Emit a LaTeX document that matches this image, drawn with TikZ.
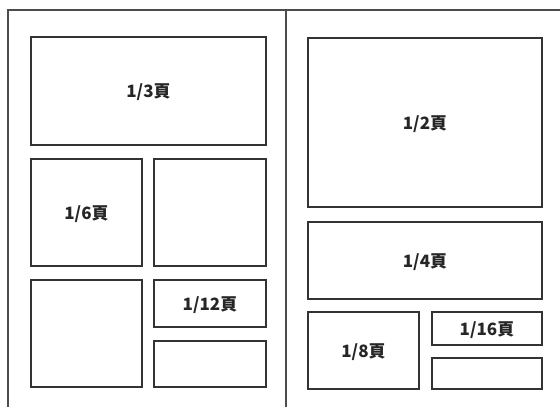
\documentclass[tikz,border=0pt]{standalone}
\usepackage{fontspec}
\setmainfont{Noto Sans CJK JP}
\begin{document}
\begin{tikzpicture}[x=1pt,y=-1pt,
  frame/.style={draw=black!70,line width=1.3pt},
  box/.style={draw=black!80,line width=1.4pt},
  lbl/.style={font=\fontsize{17}{19}\selectfont\bfseries,text=black!85,yshift=-1.5pt}]
\useasboundingbox (0,0) rectangle (560,407);
% page frames
\draw[frame] (8,407) -- (8,10) -- (560,10);
\draw[frame] (286,10) -- (286,407);
% left page
\draw[box] (31,37) rectangle (266,145) node[midway,lbl] (a) {1/3頁};
\draw[box] (31,159) rectangle (142,266) node[midway,lbl] (b) {1/6頁};
\draw[box] (154,159) rectangle (266,266);
\draw[box] (31,280) rectangle (142,387);
\draw[box] (154,280) rectangle (266,327) node[midway,lbl] (c) {1/12頁};
\draw[box] (154,341) rectangle (266,387);
% right page
\draw[box] (308,38) rectangle (542,207) node[midway,lbl] (d) {1/2頁};
\draw[box] (308,222) rectangle (542,299) node[midway,lbl] (e) {1/4頁};
\draw[box] (308,312) rectangle (419,389) node[midway,lbl] (f) {1/8頁};
\draw[box] (432,312) rectangle (542,345) node[midway,lbl] (g) {1/16頁};
\draw[box] (432,358) rectangle (542,389);
\end{tikzpicture}
\end{document}
